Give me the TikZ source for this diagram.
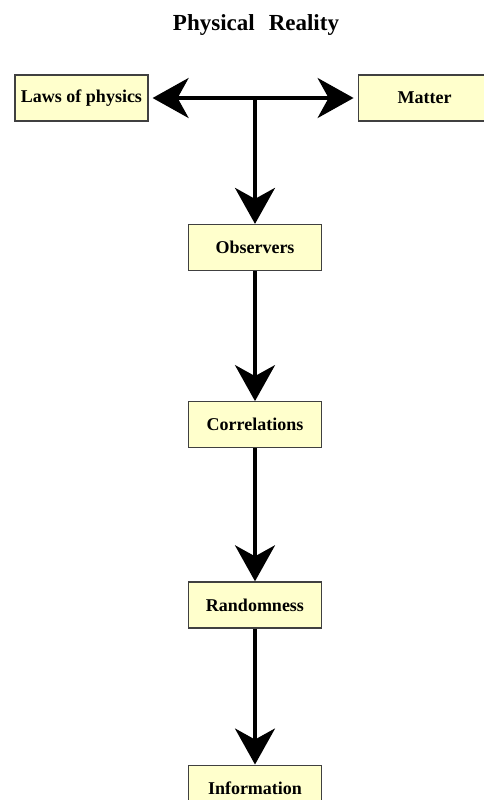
\documentclass[tikz,border=0pt]{standalone}
\usepackage{fontspec}
\setmainfont{Liberation Serif}
\usepackage{xcolor}
\definecolor{boxfill}{HTML}{FFFFCC}
\definecolor{boxline}{HTML}{404040}
\usetikzlibrary{positioning,arrows.meta}
\tikzset{
  concept/.style={ font=\fontsize{18}{20}\selectfont\bfseries, rectangle, draw=boxline, fill=boxfill,
                   line width=1.2pt, inner sep=0pt, minimum width=133pt, minimum height=46pt },
  heading/.style={ font=\fontsize{23}{25}\selectfont\bfseries },
  flow/.style={-{Stealth[length=36pt,width=40pt,inset=11pt]}, line width=3.5pt, draw=black}
}

\begin{document}
\begin{tikzpicture}[x=1pt,y=-1pt]
\clip (0,0) rectangle (484,800);

\node[heading] (title) at (256,25) {Physical\hspace{14pt}Reality};
\node[concept] (laws) at (81.5,98) {Laws of physics};
\node[concept] (matter) [right=209pt of laws] {Matter};
\node[concept] (obs) at (255,247.5) {Observers};
\node[concept] (corr) [below=130pt of obs] {Correlations};
\node[concept] (rand) [below=133pt of corr] {Randomness};
\node[concept] (info) [below=136pt of rand] {Information};

\coordinate (hub) at (obs.north |- laws.east);

\draw[flow,shorten >=4pt] (hub) -- (laws);
\draw[flow,shorten >=4pt] (hub) -- (matter);
\draw[flow] (hub) -- (obs);
\draw[flow] (obs) -- (corr);
\draw[flow] (corr) -- (rand);
\draw[flow] (rand) -- (info);

\end{tikzpicture}
\end{document}
